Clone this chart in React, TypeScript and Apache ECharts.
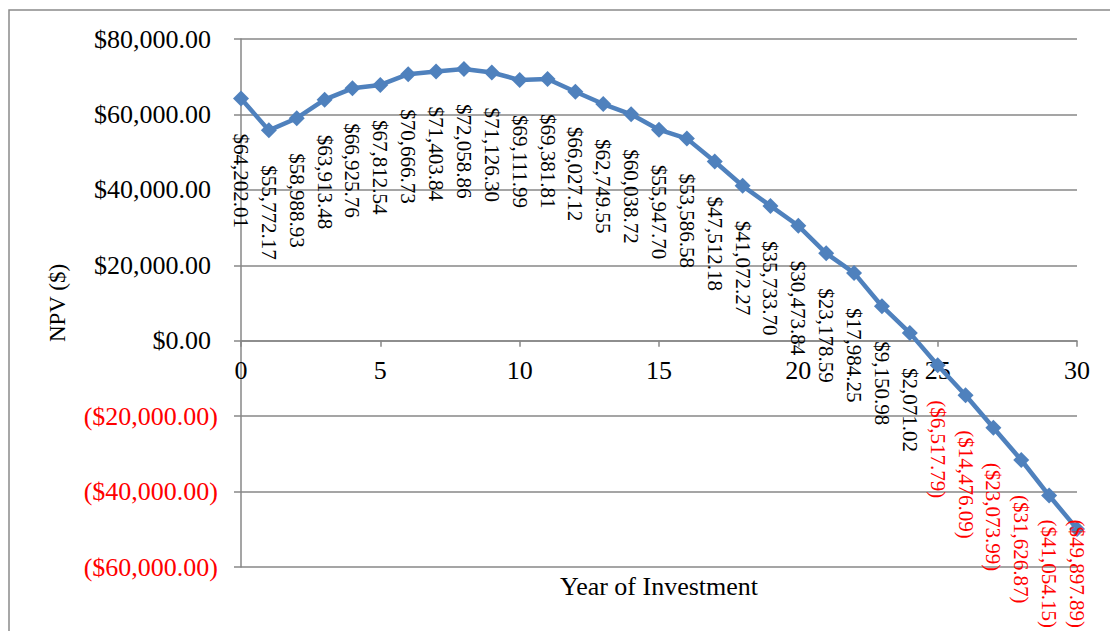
import { useEffect, useRef } from "react";
import * as echarts from "echarts";

// Year of investment and the resulting NPV ($)
const years = [
  0, 1, 2, 3, 4, 5, 6, 7, 8, 9, 10, 11, 12, 13, 14, 15, 16, 17, 18, 19, 20,
  21, 22, 23, 24, 25, 26, 27, 28, 29, 30,
];
const npv = [
  64202.01, 55772.17, 58988.93, 63913.48, 66925.76, 67812.54, 70666.73,
  71403.84, 72058.86, 71126.3, 69111.99, 69381.81, 66027.12, 62749.55,
  60038.72, 55947.7, 53586.58, 47512.18, 41072.27, 35733.7, 30473.84,
  23178.59, 17984.25, 9150.98, 2071.02, -6517.79, -14476.09, -23073.99,
  -31626.87, -41054.15, -49897.89,
];

// Axis ranges
const xRange = { min: 0, max: 30, step: 5 };
const yRange = { min: -60000, max: 80000, step: 20000 };

const SERIF = "'Liberation Serif', 'Times New Roman', serif";
const BLUE = "#4f81bd";
const GRID_GRAY = "#878787";
const NEG_RED = "#ff0000";

// Accounting style: $1,234.56 and ($1,234.56) for negatives
const money = (v: number) => {
  const s =
    "$" +
    Math.abs(v).toLocaleString("en-US", {
      minimumFractionDigits: 2,
      maximumFractionDigits: 2,
    });
  return v < 0 ? `(${s})` : s;
};

export default function App() {
  const ref = useRef<HTMLDivElement>(null);

  useEffect(() => {
    const chart = echarts.init(ref.current!, null, { renderer: "svg" });
    const plot = { left: 241, top: 39, width: 836, height: 528 };
    const labelBottomLimit = 628;
    // the category axis crosses the value axis at $0: lift it from the plot's
    // bottom edge by the share of the range that lies below zero
    const zeroLift = (plot.height * (0 - yRange.min)) / (yRange.max - yRange.min);

    chart.setOption({
      animation: false,
      backgroundColor: "#ffffff",
      graphic: [
        {
          type: "rect",
          shape: { x: 9, y: 10, width: 1200, height: 700 },
          style: { fill: "none", stroke: "#8a8a8a", lineWidth: 1.5 },
          silent: true,
        },
      ],
      grid: {
        ...plot,
        containLabel: false,
        outerBoundsMode: "none",
      },
      xAxis: {
        type: "value",
        position: "bottom",
        offset: -zeroLift,
        min: xRange.min,
        max: xRange.max,
        interval: xRange.step,
        name: "Year of Investment",
        nameLocation: "middle",
        nameGap: 233,
        nameTextStyle: { fontFamily: SERIF, fontSize: 26, color: "#000" },
        axisLine: {
          show: true,
          onZero: false,
          lineStyle: { color: GRID_GRAY, width: 1.5 },
        },
        axisTick: {
          show: true,
          length: 6,
          lineStyle: { color: GRID_GRAY, width: 1.5 },
        },
        axisLabel: {
          margin: 17,
          fontFamily: SERIF,
          fontSize: 26,
          color: "#000",
        },
        splitLine: { show: false },
      },
      yAxis: {
        type: "value",
        min: yRange.min,
        max: yRange.max,
        interval: yRange.step,
        name: "NPV ($)",
        nameLocation: "middle",
        nameRotate: 90,
        nameGap: 172,
        nameTextStyle: { fontFamily: SERIF, fontSize: 23, color: "#000" },
        axisLine: {
          show: true,
          onZero: false,
          lineStyle: { color: GRID_GRAY, width: 1.5 },
        },
        axisTick: {
          show: true,
          length: 7,
          lineStyle: { color: GRID_GRAY, width: 1.5 },
        },
        axisLabel: {
          margin: 23,
          formatter: (v: number) =>
            v < 0 ? `{n|${money(v)}}` : `{p|${money(v)}}`,
          rich: {
            n: { color: NEG_RED, fontFamily: SERIF, fontSize: 26 },
            p: {
              color: "#000",
              fontFamily: SERIF,
              fontSize: 26,
              padding: [0, 7, 0, 0],
            },
          },
        },
        splitLine: {
          show: true,
          lineStyle: { color: GRID_GRAY, width: 1.5 },
        },
      },
      series: [
        {
          type: "line",
          data: years.map((y, i) => [y, npv[i]]),
          clip: false,
          symbol: "diamond",
          symbolSize: 16,
          lineStyle: { color: BLUE, width: 4.5 },
          itemStyle: { color: BLUE },
          label: {
            show: true,
            position: "bottom",
            distance: 27,
            rotate: -90,
            align: "left",
            verticalAlign: "middle",
            formatter: (p: any) => {
              const v = p.value[1] as number;
              return v < 0 ? `{n|${money(v)}}` : `{p|${money(v)}}`;
            },
            rich: {
              n: { color: NEG_RED, fontFamily: SERIF, fontSize: 21 },
              p: { color: "#000", fontFamily: SERIF, fontSize: 21 },
            },
          },
          // keep the value labels inside the chart frame; the labels are
          // turned a quarter clockwise, so their own x runs down the page
          labelLayout: (params: any) => {
            const r = params.labelRect;
            const overflow = r.y + r.height - labelBottomLimit;
            return overflow > 0 ? { dx: -overflow } : {};
          },
        },
      ],
    });

    return () => chart.dispose();
  }, []);

  return (
    <div
      ref={ref}
      style={{
        position: "absolute",
        left: 0,
        top: 0,
        width: 1110,
        height: 631,
        background: "#fff",
      }}
    />
  );
}
